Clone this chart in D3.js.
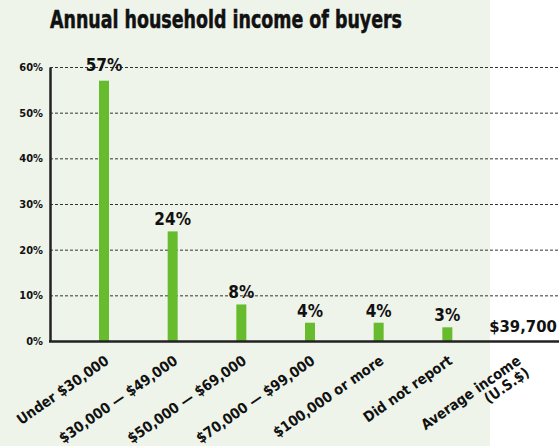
<!DOCTYPE html>
<html>
<head>
<meta charset="utf-8">
<script src="https://cdn.jsdelivr.net/npm/d3@7/dist/d3.min.js"></script>
<style>
  html, body { margin: 0; padding: 0; background: #ffffff; }
  svg { display: block; }
  text { font-family: "DejaVu Sans Condensed", "Liberation Sans Narrow", sans-serif; font-weight: bold; fill: #111; }
</style>
</head>
<body>
<svg id="chart" width="559" height="446"></svg>
<script>
// Income brackets and share of buyers (%)
const categories = ["Under $30,000", "$30,000 — $49,000", "$50,000 — $69,000", "$70,000 — $99,000", "$100,000 or more", "Did not report", "Average income"];
const shares = [57, 24, 8, 4, 4, 3];
const barLabels = ["57%", "24%", "8%", "4%", "4%", "3%"];
const averageIncomeLabel = "$39,700";
const yTicks = [0, 10, 20, 30, 40, 50, 60];
const title = "Annual household income of buyers";

const W = 559, H = 446;
const svg = d3.select("#chart");

// Tinted panel behind the chart
svg.append("rect").attr("x", 0).attr("y", 0).attr("width", 490).attr("height", H).attr("fill", "#eef4e9");

const axisLeft = 50, axisBottom = 341;
const y = d3.scaleLinear().domain([0, 60]).range([axisBottom, 67]);
const x = d3.scalePoint().domain(categories).range([104, 516]);

svg.append("text").attr("x", 50).attr("y", 28).attr("font-size", 24)
  .attr("stroke", "#111").attr("stroke-width", 0.5)
  .attr("textLength", 352).attr("lengthAdjust", "spacingAndGlyphs").text(title);

// Dashed gridlines
svg.append("g").selectAll("line").data(yTicks.filter(d => d > 0)).join("line")
  .attr("x1", axisLeft).attr("x2", W)
  .attr("y1", d => y(d) + 0.5).attr("y2", d => y(d) + 0.5)
  .attr("stroke", "#333").attr("stroke-width", 1).attr("stroke-dasharray", "3,2");

// Y axis
const yAxis = svg.append("g").attr("transform", `translate(${axisLeft},0)`)
  .call(d3.axisLeft(y).tickValues(yTicks).tickFormat(d => d + "%").tickSize(0).tickPadding(7));
yAxis.select(".domain").attr("stroke", "#222").attr("stroke-width", 2.5);
yAxis.selectAll("text").attr("font-size", 11).attr("font-family", null).attr("font-weight", "bold").attr("fill", "#111");

// Bars
const barW = 10;
svg.append("g").selectAll("rect").data(shares).join("rect")
  .attr("x", (d, i) => x(categories[i]) - barW / 2)
  .attr("y", d => y(d))
  .attr("width", barW)
  .attr("height", d => axisBottom - y(d))
  .attr("fill", "#66bc2d");

// Value labels
svg.append("g").selectAll("text").data(shares).join("text")
  .attr("x", (d, i) => x(categories[i]))
  .attr("y", (d, i) => y(d) - (i === 0 ? 10 : 6))
  .attr("text-anchor", "middle")
  .attr("font-size", 17)
  .text((d, i) => barLabels[i]);

// Average income value
svg.append("text")
  .attr("x", x(categories[6]) + 7).attr("y", 332)
  .attr("text-anchor", "middle").attr("font-size", 16.5)
  .text(averageIncomeLabel);

// X axis baseline
svg.append("line").attr("x1", axisLeft - 1).attr("x2", W)
  .attr("y1", axisBottom + 0.5).attr("y2", axisBottom + 0.5)
  .attr("stroke", "#222").attr("stroke-width", 2.5);

// Rotated category labels
const xl = svg.append("g").selectAll("text").data(categories).join("text")
  .attr("transform", d => `translate(${x(d) + 6},${363}) rotate(-35)`)
  .attr("text-anchor", "end")
  .attr("font-size", 14.5);
xl.each(function(d, i) {
  const t = d3.select(this);
  if (i === categories.length - 1) {
    t.append("tspan").attr("x", 0).attr("dy", 0).text(d);
    t.append("tspan").attr("x", 0).attr("dy", "1em").text("(U.S.$)");
  } else {
    t.text(d);
  }
});
</script>
</body>
</html>
